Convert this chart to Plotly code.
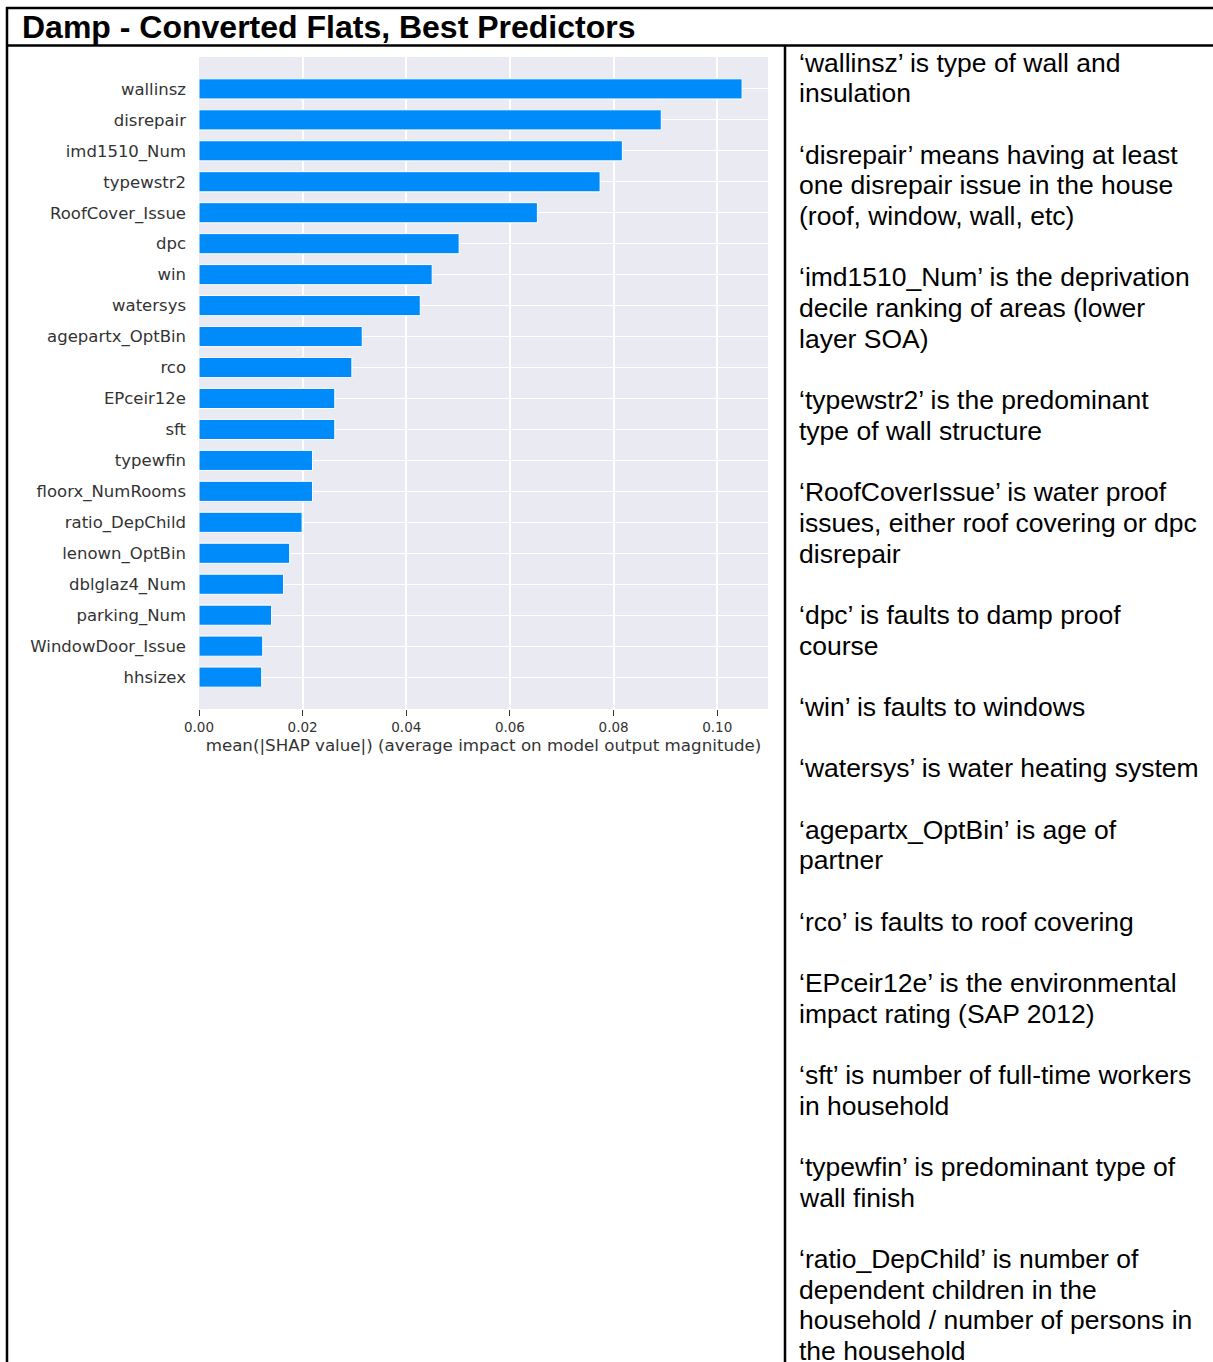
import plotly.graph_objects as go

W, H = 1213, 1362

features = ["wallinsz", "disrepair", "imd1510_Num", "typewstr2", "RoofCover_Issue", "dpc", "win",
            "watersys", "agepartx_OptBin", "rco", "EPceir12e", "sft", "typewfin", "floorx_NumRooms",
            "ratio_DepChild", "lenown_OptBin", "dblglaz4_Num", "parking_Num", "WindowDoor_Issue", "hhsizex"]
shap_values = [0.1048, 0.0892, 0.0817, 0.0774, 0.0653, 0.0502, 0.0450, 0.0427, 0.0315, 0.0295,
               0.0262, 0.0262, 0.0219, 0.0219, 0.0199, 0.0175, 0.0163, 0.0140, 0.0123, 0.0121]
x_ticks = [0.0, 0.02, 0.04, 0.06, 0.08, 0.10]
x_tick_labels = ["0.00", "0.02", "0.04", "0.06", "0.08", "0.10"]

title_text = "Damp - Converted Flats, Best Predictors"
x_title = "mean(|SHAP value|) (average impact on model output magnitude)"

paragraphs = [
    ["‘wallinsz’ is type of wall and", "insulation"],
    ["‘disrepair’ means having at least", "one disrepair issue in the house", "(roof, window, wall, etc)"],
    ["‘imd1510_Num’ is the deprivation", "decile ranking of areas (lower", "layer SOA)"],
    ["‘typewstr2’ is the predominant", "type of wall structure"],
    ["‘RoofCoverIssue’ is water proof", "issues, either roof covering or dpc", "disrepair"],
    ["‘dpc’ is faults to damp proof", "course"],
    ["‘win’ is faults to windows"],
    ["‘watersys’ is water heating system"],
    ["‘agepartx_OptBin’ is age of", "partner"],
    ["‘rco’ is faults to roof covering"],
    ["‘EPceir12e’ is the environmental", "impact rating (SAP 2012)"],
    ["‘sft’ is number of full-time workers", "in household"],
    ["‘typewfin’ is predominant type of", "wall finish"],
    ["‘ratio_DepChild’ is number of", "dependent children in the",
     "household / number of persons in", "the household"],
]


def px_x(x):
    return x / W


def px_y(y):
    return 1 - y / H


fig = go.Figure()
fig.add_trace(go.Bar(
    x=shap_values, y=features, orientation="h",
    marker=dict(color="#008BFB", line=dict(color="white", width=1)),
    width=0.65, hoverinfo="x+y",
))

# plot area geometry (pixels)
pl, pr, pt, pb = 199, 768, 57, 709

fig.update_layout(
    width=W, height=H,
    margin=dict(l=0, r=0, t=0, b=0, autoexpand=False),
    paper_bgcolor="white",
    plot_bgcolor="#EAEAF2",
    showlegend=False,
    xaxis=dict(
        domain=[px_x(pl), px_x(pr)],
        range=[0, 0.1098],
        automargin=False,
        tickvals=x_ticks, ticktext=x_tick_labels,
        showgrid=True, gridcolor="white", gridwidth=1.5,
        zeroline=False, showline=False,
        ticks="outside", ticklen=6, tickwidth=1.2, tickcolor="#333333",
        tickfont=dict(family="DejaVu Sans", size=13.5, color="#333333"),
        title=dict(text=x_title, font=dict(family="DejaVu Sans", size=16.7, color="#333333"), standoff=2),
        anchor="y",
    ),
    yaxis=dict(
        domain=[px_y(pb), px_y(pt)],
        categoryorder="array", categoryarray=features[::-1],
        range=[-1.03, 20.03],
        automargin=False,
        showgrid=True, gridcolor="white", gridwidth=1,
        zeroline=False, showline=False, ticks="",
        ticklabelstandoff=12,
        tickfont=dict(family="DejaVu Sans", size=16.5, color="#333333"),
        anchor="x",
    ),
)

line_col = "black"
shapes = [
    dict(type="line", xref="paper", yref="paper", x0=px_x(6), x1=1, y0=px_y(8), y1=px_y(8),
         line=dict(color=line_col, width=2.5)),
    dict(type="line", xref="paper", yref="paper", x0=px_x(6), x1=1, y0=px_y(45.5), y1=px_y(45.5),
         line=dict(color=line_col, width=2.5)),
    dict(type="line", xref="paper", yref="paper", x0=px_x(7), x1=px_x(7), y0=px_y(7), y1=0,
         line=dict(color=line_col, width=2.5)),
    dict(type="line", xref="paper", yref="paper", x0=px_x(785), x1=px_x(785), y0=px_y(45.5), y1=0,
         line=dict(color=line_col, width=2.5)),
]
fig.update_layout(shapes=shapes)

annotations = [dict(
    text="<b>" + title_text + "</b>", xref="paper", yref="paper", x=px_x(20), y=px_y(27),
    xanchor="left", yanchor="middle", showarrow=False,
    font=dict(family="Arial, Liberation Sans", size=32, color="black"),
)]

line_idx = 0
for p in paragraphs:
    for ln in p:
        yc = 62.8 + line_idx * 30.67
        annotations.append(dict(
            text=ln, xref="paper", yref="paper", x=px_x(797), y=px_y(yc),
            xanchor="left", yanchor="middle", showarrow=False,
            font=dict(family="Arial, Liberation Sans", size=26.5, color="black"),
        ))
        line_idx += 1
    line_idx += 1

fig.update_layout(annotations=annotations)

fig.write_html("out.html")
